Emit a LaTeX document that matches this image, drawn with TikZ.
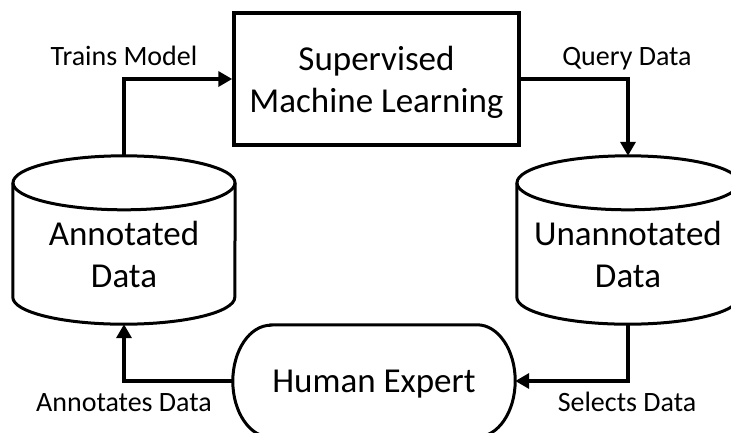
\documentclass[tikz,border=0pt]{standalone}
\usepackage{fontspec}
\setmainfont{Carlito}
\usetikzlibrary{arrows.meta}
\begin{document}
\begin{tikzpicture}[x=1pt,y=-1pt,
  outline/.style={draw=black, line width=3pt},
  boxline/.style={draw=black, line width=3.5pt},
  conn/.style={draw=black, line width=4.5pt, -{Triangle[length=14pt,width=15pt]}},
  maintxt/.style={font=\fontsize{35}{42}\selectfont, align=center, anchor=base, inner sep=0pt},
  lbl/.style={font=\fontsize{28}{33}\selectfont, anchor=base, inner sep=0pt},
  cylarea/.style={minimum width=222pt, minimum height=168pt, inner sep=0pt}]

% page and clipping
\fill[white] (0,0) rectangle (731,432);
\clip (0,0) rectangle (731,432);

% main shapes (outline geometry)
\node[boxline, minimum width=285pt, minimum height=132pt, inner sep=0pt] (sml) at (376.5,79) {};
\node[cylarea] (ann) at (124,240) {};
\node[cylarea] (unann) at (628,240) {};
\node[minimum width=282pt, minimum height=112pt, inner sep=0pt] (hum) at (374,381) {};

% cylinders: top cap + body with lower rim
\foreach \c in {ann,unann} {
  \draw[outline] ([yshift=-27pt]\c.north) ellipse [x radius=111pt, y radius=27pt];
  \draw[outline] ([yshift=-27pt]\c.north west) -- ([yshift=27pt]\c.south west)
     arc[start angle=180, end angle=360, x radius=111pt, y radius=27pt]
     -- ([yshift=-27pt]\c.north east);
}

% terminator shape with elliptical ends
\draw[outline] ([xshift=38pt]hum.north west) -- ([xshift=-38pt]hum.north east)
   arc[start angle=90, end angle=-90, x radius=38pt, y radius=56pt]
   -- ([xshift=38pt]hum.south west)
   arc[start angle=270, end angle=90, x radius=38pt, y radius=56pt] -- cycle;

% texts (base anchor sits on the last line)
\node[maintxt] (smltxt) at (376.5,112) {Supervised\\Machine Learning};
\node[maintxt] (anntxt) at (124,287) {Annotated\\Data};
\node[maintxt] (unanntxt) at (628,287) {Unannotated\\Data};
\node[maintxt] (humtxt) at (374,392) {Human Expert};

% connectors
\draw[conn] (ann.north) |- (sml.west);
\draw[conn] (sml.east) -| (unann.north);
\draw[conn] (unann.south) |- (hum.east);
\draw[conn] (hum.west) -| (ann.south);

% connector labels
\node[lbl] (l1) at (124,65) {Trains Model};
\node[lbl] (l2) at (627,65) {Query Data};
\node[lbl] (l3) at (124,411) {Annotates Data};
\node[lbl] (l4) at (627,411) {Selects Data};
\end{tikzpicture}
\end{document}
